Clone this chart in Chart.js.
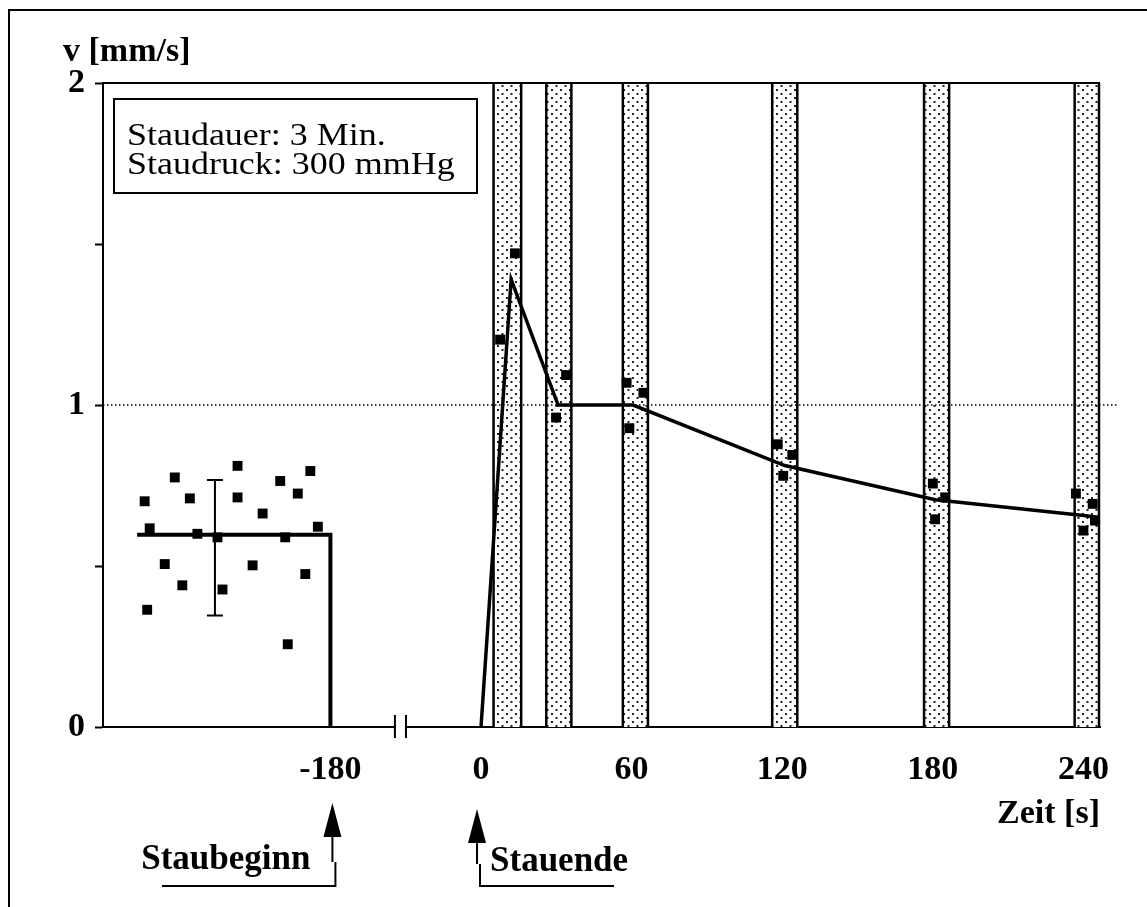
<!DOCTYPE html>
<html>
<head>
<meta charset="utf-8">
<script src="https://cdn.jsdelivr.net/npm/chart.js@4/dist/chart.umd.min.js"></script>
<style>
  html, body { margin: 0; padding: 0; background: #fff; }
  #wrap { width: 1147px; height: 907px; }
</style>
</head>
<body>
<div id="wrap"><canvas id="chart"></canvas></div>
<script>
// Ruhewerte vor Staubeginn (Zeit in s, v in mm/s)
const restTime = [-254, -252, -242, -236, -246, -239, -253, -233, -225, -223, -217,
                  -217, -211, -207, -200, -193, -188, -198, -190, -185, -197];
const restV    = [0.701, 0.617, 0.775, 0.710, 0.506, 0.440, 0.364, 0.600, 0.589, 0.427, 0.811,
                  0.713, 0.502, 0.663, 0.764, 0.725, 0.795, 0.589, 0.475, 0.622, 0.257];
const restMean = 0.597;
const restSD = [0.346, 0.767];
const restSDTime = -226;
const restLineTime = [-257, -180, -180];
const restLineV = [restMean, restMean, 0];

// Messwerte nach Stauende
const postTime = [7.6, 13.5, 29.9, 33.9, 58, 59.1, 64.7, 118.2, 120.4, 124,
                  180, 180.9, 184.9, 237, 240, 243.7, 244.6];
const postV    = [1.203, 1.471, 0.961, 1.093, 1.069, 0.928, 1.038, 0.878, 0.780, 0.845,
                  0.756, 0.645, 0.713, 0.725, 0.610, 0.693, 0.641];

// Mittelwertkurve
const curveTime = [0, 12, 30.7, 60.6, 121, 181, 241, 246.5];
const curveV    = [0, 1.39, 1.0, 1.0, 0.812, 0.706, 0.656, 0.651];

// Messfenster (schraffierte Streifen)
const stripeStart = [5, 26, 56.5, 116, 176.5, 236.5];
const stripeEnd   = [16, 36, 66.5, 126, 186.5, 246.2];

const xTicks = [-180, 0, 60, 120, 180, 240];
const yTicks = [0, 0.5, 1, 1.5, 2];

// axis is broken between -180 and 0: times before -90 are shifted right by 120 s
function toAxis(t) { return t < -90 ? t + 120 : t; }
function pts(ts, vs) { return ts.map((t, i) => ({ x: toAxis(t), y: vs[i] })); }

const boldFont = 'bold 34px "Liberation Serif"';
const plainFont = '31px "Liberation Serif"';

let stripePattern = null;
function getPattern(ctx) {
  if (stripePattern) return stripePattern;
  const c = document.createElement('canvas');
  c.width = 9; c.height = 8;
  const g = c.getContext('2d');
  g.fillStyle = '#fff';
  g.fillRect(0, 0, 9, 8);
  g.fillStyle = '#222';
  g.fillRect(2, 1, 2, 2);
  g.fillRect(6.5, 5, 2, 2);
  stripePattern = ctx.createPattern(c, 'repeat');
  return stripePattern;
}

function arrow(ctx, x, tipY, baseY) {
  ctx.beginPath();
  ctx.moveTo(x, tipY);
  ctx.lineTo(x + 9, baseY);
  ctx.lineTo(x - 9, baseY);
  ctx.closePath();
  ctx.fill();
}

const decor = {
  id: 'decor',
  beforeDatasetsDraw(chart) {
    const { ctx, chartArea, scales: { x, y } } = chart;
    ctx.save();
    // Messfenster
    stripeStart.forEach((s, i) => {
      const x0 = x.getPixelForValue(stripeStart[i]);
      const x1 = x.getPixelForValue(stripeEnd[i]);
      ctx.fillStyle = getPattern(ctx);
      ctx.fillRect(x0, chartArea.top, x1 - x0, chartArea.bottom - chartArea.top);
      ctx.strokeStyle = '#000';
      ctx.lineWidth = 2.5;
      ctx.beginPath();
      ctx.moveTo(x0, chartArea.top); ctx.lineTo(x0, chartArea.bottom);
      ctx.moveTo(x1, chartArea.top); ctx.lineTo(x1, chartArea.bottom);
      ctx.stroke();
    });
    // Referenzlinie bei 1 mm/s
    const y1 = y.getPixelForValue(1);
    ctx.strokeStyle = '#000';
    ctx.lineWidth = 1.5;
    ctx.setLineDash([1.5, 2.5]);
    ctx.beginPath();
    ctx.moveTo(chartArea.left, y1);
    ctx.lineTo(chartArea.right + 18, y1);
    ctx.stroke();
    ctx.setLineDash([]);
    // Standardabweichung Ruhewert
    const ex = x.getPixelForValue(toAxis(restSDTime));
    const e0 = y.getPixelForValue(restSD[0]);
    const e1 = y.getPixelForValue(restSD[1]);
    ctx.lineWidth = 2;
    ctx.beginPath();
    ctx.moveTo(ex, e0); ctx.lineTo(ex, e1);
    ctx.moveTo(ex - 8, e0); ctx.lineTo(ex + 8, e0);
    ctx.moveTo(ex - 8, e1); ctx.lineTo(ex + 8, e1);
    ctx.stroke();
    ctx.restore();
  },
  afterDraw(chart) {
    const { ctx, chartArea, scales: { x, y } } = chart;
    ctx.save();
    ctx.strokeStyle = '#000';
    ctx.fillStyle = '#000';
    // oberer Rahmen
    ctx.lineWidth = 2;
    ctx.beginPath();
    ctx.moveTo(chartArea.left, chartArea.top);
    ctx.lineTo(chartArea.right, chartArea.top);
    ctx.stroke();
    // Achsenbruch
    const b0 = x.getPixelForValue(-34.3);
    const b1 = x.getPixelForValue(-29.9);
    ctx.fillStyle = '#fff';
    ctx.fillRect(b0 + 1, chartArea.bottom - 3, b1 - b0 - 2, 6);
    ctx.beginPath();
    ctx.moveTo(b0, chartArea.bottom - 12); ctx.lineTo(b0, chartArea.bottom + 11);
    ctx.moveTo(b1, chartArea.bottom - 12); ctx.lineTo(b1, chartArea.bottom + 11);
    ctx.stroke();
    // Infobox
    ctx.fillStyle = '#000';
    ctx.strokeRect(chartArea.left + 11, chartArea.top + 16, 363, 94);
    ctx.save();
    ctx.translate(chartArea.left + 24, 0);
    ctx.scale(1.16, 1);
    ctx.font = plainFont;
    ctx.textBaseline = 'alphabetic';
    ctx.textAlign = 'left';
    ctx.fillText('Staudauer: 3 Min.', 0, chartArea.top + 62);
    ctx.fillText('Staudruck: 300 mmHg', 0, chartArea.top + 91);
    ctx.restore();
    // y-Achsentitel
    ctx.font = boldFont;
    ctx.fillText('v [mm/s]', 63, 61);
    // Pfeile
    const a1 = x.getPixelForValue(toAxis(-180)) + 2;
    const a2 = x.getPixelForValue(0) - 4;
    ctx.lineWidth = 2;
    arrow(ctx, a1, 803, 837);
    arrow(ctx, a2, 809, 843);
    ctx.beginPath();
    ctx.moveTo(a1, 836); ctx.lineTo(a1, 862);
    ctx.moveTo(a1 + 3, 862); ctx.lineTo(a1 + 3, 886); ctx.lineTo(162, 886);
    ctx.moveTo(a2, 842); ctx.lineTo(a2, 864);
    ctx.moveTo(a2 + 3, 864); ctx.lineTo(a2 + 3, 886); ctx.lineTo(614, 886);
    ctx.stroke();
    ctx.font = 'bold 35px "Liberation Serif"';
    ctx.textAlign = 'right';
    ctx.fillText('Staubeginn', a1 - 22, 869);
    ctx.textAlign = 'left';
    ctx.fillText('Stauende', a2 + 13, 871);
    // äußerer Rahmen
    ctx.lineWidth = 2;
    ctx.beginPath();
    ctx.moveTo(9, 907); ctx.lineTo(9, 10); ctx.lineTo(1147, 10);
    ctx.stroke();
    ctx.restore();
  }
};

new Chart('chart', {
  type: 'scatter',
  data: {
    datasets: [
      {
        label: 'Mittelwert',
        data: pts(curveTime, curveV),
        showLine: true,
        borderColor: '#000',
        borderWidth: 3.5,
        pointRadius: 0,
        tension: 0
      },
      {
        label: 'Ruhewert',
        data: pts(restLineTime, restLineV),
        showLine: true,
        borderColor: '#000',
        borderWidth: 4,
        pointRadius: 0,
        tension: 0
      },
      {
        label: 'Messwerte vorher',
        data: pts(restTime, restV),
        pointStyle: 'rect',
        pointRadius: 7,
        backgroundColor: '#000',
        borderWidth: 0
      },
      {
        label: 'Messwerte nachher',
        data: pts(postTime, postV),
        pointStyle: 'rect',
        pointRadius: 7,
        backgroundColor: '#000',
        borderWidth: 0
      }
    ]
  },
  options: {
    responsive: true,
    maintainAspectRatio: false,
    animation: false,
    layout: { padding: { top: 83, right: 47, bottom: 76, left: 0 } },
    plugins: { legend: { display: false }, tooltip: { enabled: false } },
    scales: {
      x: {
        type: 'linear',
        min: -150.6,
        max: 246.6,
        afterBuildTicks: s => { s.ticks = xTicks.map(t => ({ value: toAxis(t) })); },
        afterFit: s => { s.height = 104; },
        grid: { display: false },
        border: { display: true, color: '#000', width: 2 },
        ticks: {
          color: '#000',
          font: { family: 'Liberation Serif', size: 34, weight: 'bold' },
          padding: 15,
          maxRotation: 0,
          autoSkip: false,
          callback: (v, i) => String(xTicks[i])
        },
        title: {
          display: true,
          text: 'Zeit [s]',
          align: 'end',
          color: '#000',
          padding: 0,
          font: { family: 'Liberation Serif', size: 34, weight: 'bold', lineHeight: 1 }
        }
      },
      y: {
        min: 0,
        max: 2,
        afterBuildTicks: s => { s.ticks = yTicks.map(v => ({ value: v })); },
        afterFit: s => { s.width = 103; },
        grid: { drawOnChartArea: false, drawTicks: true, tickLength: 8, tickColor: '#000', tickWidth: 2 },
        border: { display: true, color: '#000', width: 2 },
        ticks: {
          color: '#000',
          font: { family: 'Liberation Serif', size: 34, weight: 'bold' },
          padding: 10,
          callback: v => (Number.isInteger(v) ? String(v) : '')
        }
      }
    }
  },
  plugins: [decor]
});
</script>
</body>
</html>
